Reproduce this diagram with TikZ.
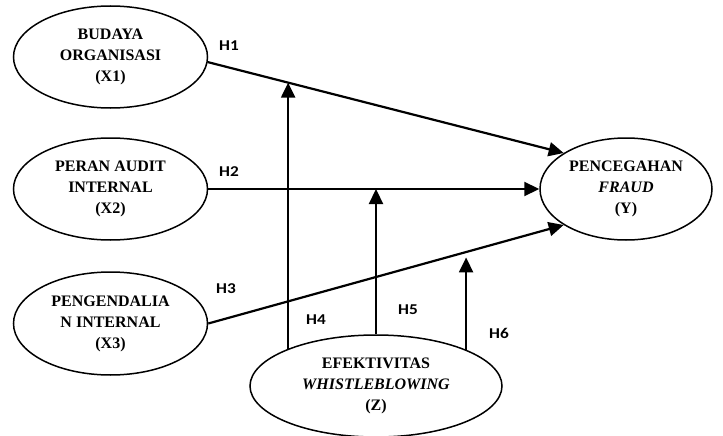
\documentclass[tikz,border=0pt]{standalone}
\usepackage{fontspec}
\setmainfont{Liberation Serif}
\newfontfamily\hfont{Carlito}
\usetikzlibrary{shapes.geometric,arrows.meta,calc}
\begin{document}
\begin{tikzpicture}[x=1pt,y=-1pt,
  var/.style={ellipse,draw,line width=1.5pt,inner sep=0pt,align=center,
    font=\fontsize{16}{21}\selectfont\bfseries},
  link/.style={line width=2.2pt,-{Triangle[length=15pt,width=14pt]}},
  hyp/.style={font=\hfont\fontsize{15}{17}\selectfont\bfseries,inner sep=0pt}]
\useasboundingbox (0,0) rectangle (723,436);
\node[var,minimum width=194pt,minimum height=102pt] (x1) at (110.5,57) {BUDAYA\\ORGANISASI\\(X1)};
\node[var,minimum width=194pt,minimum height=102pt] (x2) at (110.5,189) {PERAN AUDIT\\INTERNAL\\(X2)};
\node[var,minimum width=194pt,minimum height=103pt] (x3) at (110.5,323.5) {PENGENDALIA\\N INTERNAL\\(X3)};
\node[var,minimum width=172pt,minimum height=102pt] (y) at (626,189) {PENCEGAHAN\\\textit{FRAUD}\\(Y)};
\node[var,minimum width=252pt,minimum height=102pt] (z) at (376,386) {EFEKTIVITAS\\\textit{WHISTLEBLOWING}\\(Z)};
% main paths
\draw[link] (x1.-3) -- (y.150);
\draw[link] (x2.east) -- (y.west);
\draw[link] (x3.east) -- (y.210);
% moderation points on the paths
\coordinate (m1) at ($(x1.-3)!0.2258!(y.150)$);
\coordinate (m3) at ($(x3.east)!0.7215!(y.210)$);
\draw[link] (z.157.5) -- (z.157.5 |- m1);
\draw[link] (z.north) -- (z.north |- x2.east);
\draw[link,shorten >=5pt] (z.22.2) -- (z.22.2 |- m3);
% labels
\node[hyp] (h1) at (229,45.5) {\scalebox{1.15}[1]{H1}};
\node[hyp] (h2) at (229,172) {\scalebox{1.15}[1]{H2}};
\node[hyp] (h3) at (226,289) {\scalebox{1.15}[1]{H3}};
\node[hyp] (h4) at (316,319.5) {\scalebox{1.15}[1]{H4}};
\node[hyp] (h5) at (408,310) {\scalebox{1.15}[1]{H5}};
\node[hyp] (h6) at (499,333) {\scalebox{1.15}[1]{H6}};
\end{tikzpicture}
\end{document}
